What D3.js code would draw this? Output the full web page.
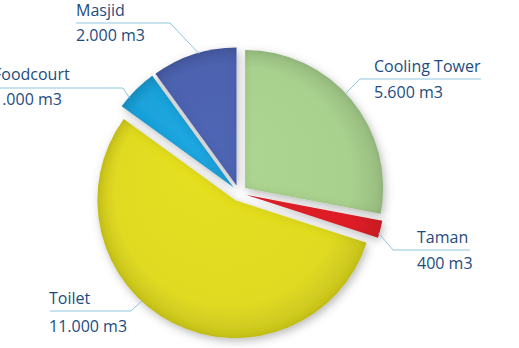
<!DOCTYPE html>
<html>
<head>
<meta charset="utf-8">
<script src="https://cdn.jsdelivr.net/npm/d3@7"></script>
<style>
  body { margin: 0; background: #fff; overflow: hidden; }
  svg { display: block; }
</style>
</head>
<body>
<svg width="519" height="348"></svg>
<script>
// data
const categories = ["Cooling Tower", "Taman", "Toilet", "Foodcourt", "Masjid"];
const values = [5600, 400, 11000, 1000, 2000];
const valueLabels = ["5.600 m3", "400 m3", "11.000 m3", "1.000 m3", "2.000 m3"];
const colors = ["#a9d18e", "#e3242b", "#e0da22", "#1fa2db", "#4d63b0"];

// label layout: text x, baselines, rule, elbow and leader angle (deg, clockwise from top)
const labelLayout = [
  {tx: 374, y1: 72, y2: 98, ly: 79, x0: 360, x1: 481, ex: 360, ang: 47},
  {tx: 417, y1: 243, y2: 269, ly: 250, x0: 393, x1: 470, ex: 393, ang: 106},
  {tx: 49, y1: 304, y2: 332, ly: 311, x0: 50, x1: 131, ex: 131, ang: 222},
  {tx: -7, y1: 80, y2: 105, ly: 88, x0: -2, x1: 123, ex: 123, ang: 311},
  {tx: 76, y1: 16, y2: 41, ly: 23, x0: 76, x1: 170, ex: 170, ang: 344}
];

const svg = d3.select("svg");
const cx = 239, cy = 193, radius = 138, explode = 8;

const defs = svg.append("defs");

// soft shadow + inner bevel
const f = defs.append("filter").attr("id", "shade")
  .attr("x", "-20%").attr("y", "-20%").attr("width", "140%").attr("height", "140%");
f.append("feGaussianBlur").attr("in", "SourceAlpha").attr("stdDeviation", 4).attr("result", "blur");
f.append("feComposite").attr("in", "SourceAlpha").attr("in2", "blur")
  .attr("operator", "arithmetic").attr("k2", 1).attr("k3", -1).attr("result", "edge");
f.append("feFlood").attr("flood-color", "#000").attr("flood-opacity", 0.2).attr("result", "dark");
f.append("feComposite").attr("in", "dark").attr("in2", "edge").attr("operator", "in").attr("result", "inner");
f.append("feOffset").attr("in", "blur").attr("dx", 2).attr("dy", 3).attr("result", "ob");
f.append("feFlood").attr("flood-color", "#555").attr("flood-opacity", 0.4).attr("result", "sc");
f.append("feComposite").attr("in", "sc").attr("in2", "ob").attr("operator", "in").attr("result", "drop");
const m = f.append("feMerge");
m.append("feMergeNode").attr("in", "drop");
m.append("feMergeNode").attr("in", "SourceGraphic");
m.append("feMergeNode").attr("in", "inner");

colors.forEach((c, i) => {
  const g = defs.append("radialGradient").attr("id", "g" + i)
    .attr("gradientUnits", "userSpaceOnUse")
    .attr("cx", 0).attr("cy", 0).attr("r", radius)
    .attr("fx", -radius * 0.3).attr("fy", -radius * 0.3);
  g.append("stop").attr("offset", "0%").attr("stop-color", d3.color(c).brighter(0.08));
  g.append("stop").attr("offset", "82%").attr("stop-color", c);
  g.append("stop").attr("offset", "100%").attr("stop-color", d3.color(c).darker(0.3));
});

const pie = d3.pie().sort(null).value(d => d)(values);
const arc = d3.arc().innerRadius(0).outerRadius(radius);

const chart = svg.append("g").attr("transform", `translate(${cx},${cy})`);

chart.selectAll("path.slice")
  .data(pie)
  .join("path")
  .attr("class", "slice")
  .attr("d", arc)
  .attr("fill", (d, i) => `url(#g${i})`)
  .attr("filter", "url(#shade)")
  .attr("transform", d => {
    const mid = (d.startAngle + d.endAngle) / 2;
    return `translate(${Math.sin(mid) * explode},${-Math.cos(mid) * explode})`;
  });

// labels
const lines = svg.append("g").attr("fill", "none").attr("stroke", "#8ec5e0").attr("stroke-width", 1);
const texts = svg.append("g")
  .style("font-family", "'Open Sans', 'Noto Sans', sans-serif")
  .style("font-size", "16px")
  .attr("fill", "#1d4c80");

labelLayout.forEach((l, i) => {
  const a = l.ang * Math.PI / 180;
  const px = cx + Math.sin(a) * (radius + 7);
  const py = cy - Math.cos(a) * (radius + 7);
  const path = d3.path();
  path.moveTo(l.ex === l.x0 ? l.x1 : l.x0, l.ly);
  path.lineTo(l.ex, l.ly);
  path.lineTo(px, py);
  lines.append("path").attr("d", path.toString());
  texts.append("text").attr("x", l.tx).attr("y", l.y1).text(categories[i]);
  texts.append("text").attr("x", l.tx).attr("y", l.y2).text(valueLabels[i]);
});
</script>
</body>
</html>
